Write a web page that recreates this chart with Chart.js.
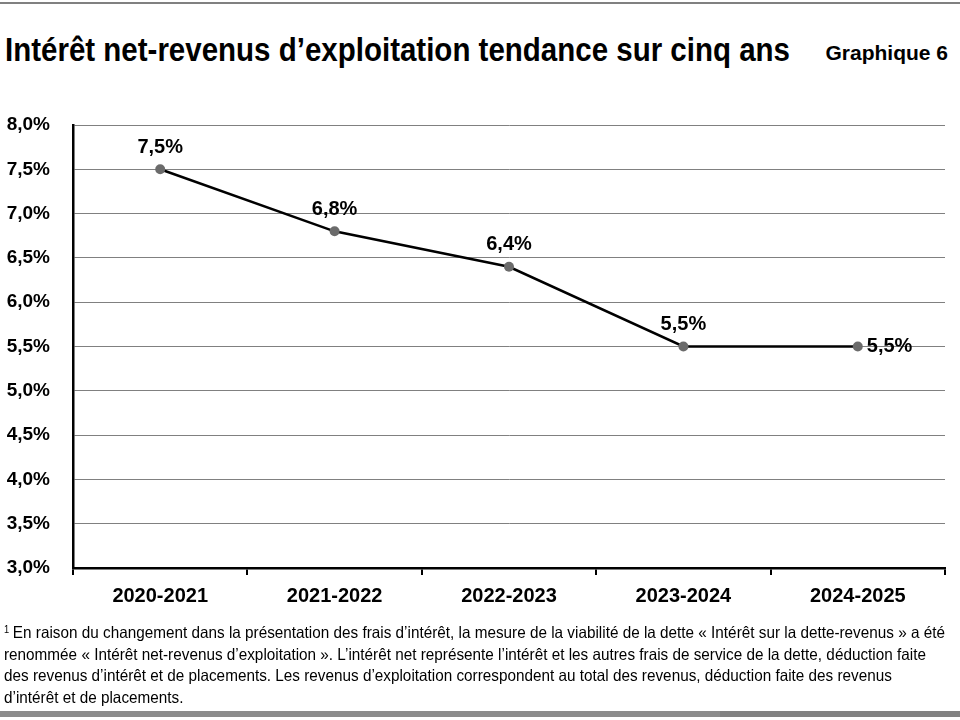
<!DOCTYPE html>
<html lang="fr">
<head>
<meta charset="utf-8">
<script src="https://cdn.jsdelivr.net/npm/chart.js@4.4.1/dist/chart.umd.min.js"></script>
<style>
  html, body { margin: 0; padding: 0; background: #fff; }
  body { width: 960px; height: 720px; position: relative; overflow: hidden;
         font-family: 'Liberation Sans', Arial, sans-serif; color: #000; }
  .topline { position: absolute; left: 0; top: 2px; width: 960px; height: 2px; background: #808080; }
  .bottombar { position: absolute; left: 0; top: 711px; width: 960px; height: 6px; background: #8c8c8c; }
  .bottombar span { position: absolute; left: 720px; top: 0; width: 240px; height: 6px; background: #828282; }
  h1 { position: absolute; left: 5px; top: 31px; margin: 0; font-size: 33px; font-weight: bold; white-space: nowrap;
       transform-origin: left top; }
  .num { position: absolute; right: 12px; top: 41px; font-size: 21px; font-weight: bold; white-space: nowrap; }
  #wrap { position: absolute; left: 0; top: 0; width: 960px; height: 720px; }
  .note { position: absolute; left: 4px; top: 622px; font-size: 16.5px; line-height: 21.5px; }
  .note div { white-space: nowrap; transform-origin: left top; }
  .note sup { font-size: 10px; vertical-align: top; position: relative; top: -3px; margin-right: 4px; }
</style>
</head>
<body>
<div class="topline"></div>
<h1 id="title">Intérêt net-revenus d’exploitation tendance sur cinq ans</h1>
<div class="num">Graphique 6</div>
<div id="wrap"><canvas id="c"></canvas></div>
<div class="note" id="note">
  <div><sup>1</sup>En raison du changement dans la présentation des frais d’intérêt, la mesure de la viabilité de la dette « Intérêt sur la dette-revenus » a été</div>
  <div>renommée « Intérêt net-revenus d’exploitation ». L’intérêt net représente l’intérêt et les autres frais de service de la dette, déduction faite</div>
  <div>des revenus d’intérêt et de placements. Les revenus d’exploitation correspondent au total des revenus, déduction faite des revenus</div>
  <div>d’intérêt et de placements.</div>
</div>
<div class="bottombar"><span></span></div>
<script>
const years = ['2020-2021', '2021-2022', '2022-2023', '2023-2024', '2024-2025'];
const ratio = [7.5, 6.8, 6.4, 5.5, 5.5];
const yMin = 3, yMax = 8, yStep = 0.5;

const FONT = "'Liberation Sans', Arial, sans-serif";
const pct = v => v.toFixed(1).replace('.', ',') + '%';

// squeeze the wide fallback font to the narrow widths of the original
function squeeze(el, target) {
  const w = el.getBoundingClientRect().width;
  el.style.transform = 'scaleX(' + (target / w) + ')';
}
squeeze(document.getElementById('title'), 785);
const noteLines = document.querySelectorAll('#note div');
const noteScale = 941 / noteLines[0].getBoundingClientRect().width;
noteLines.forEach(d => { d.style.transform = 'scaleX(' + noteScale + ')'; });

// labels above the points, the last one to the right
const valueLabels = {
  id: 'valueLabels',
  afterDatasetsDraw(chart) {
    const ctx = chart.ctx;
    const pts = chart.getDatasetMeta(0).data;
    ctx.save();
    ctx.font = 'bold 20px ' + FONT;
    ctx.fillStyle = '#000';
    ctx.textBaseline = 'middle';
    pts.forEach((p, i) => {
      if (i === pts.length - 1) {
        ctx.textAlign = 'left';
        ctx.fillText(pct(ratio[i]), p.x + 9, p.y);
      } else {
        ctx.textAlign = 'center';
        ctx.fillText(pct(ratio[i]), p.x, p.y - 22);
      }
    });
    ctx.restore();
  }
};

new Chart(document.getElementById('c'), {
  type: 'line',
  data: {
    labels: years,
    datasets: [{
      data: ratio,
      borderColor: '#000',
      borderWidth: 2.5,
      tension: 0,
      pointRadius: 5,
      pointHoverRadius: 5,
      pointBackgroundColor: '#6b6b6b',
      pointBorderColor: '#6b6b6b',
      pointBorderWidth: 0
    }]
  },
  options: {
    responsive: true,
    maintainAspectRatio: false,
    animation: false,
    layout: { padding: { top: 125, right: 15, bottom: 112, left: 0 } },
    plugins: { legend: { display: false }, tooltip: { enabled: false } },
    scales: {
      x: {
        offset: true,
        afterFit: s => { s.height = 40; },
        grid: { offset: true, drawOnChartArea: false, drawTicks: true, tickLength: 7, tickColor: '#000', lineWidth: 2 },
        border: { color: '#000', width: 2.5 },
        ticks: { color: '#000', font: { family: FONT, size: 20, weight: 'bold' }, padding: 9 }
      },
      y: {
        min: yMin,
        max: yMax,
        afterFit: s => { s.width = 73; },
        grid: { color: '#808080', lineWidth: 1, drawTicks: false },
        border: { color: '#000', width: 2.5 },
        ticks: { stepSize: yStep, color: '#000', padding: 23, font: { family: FONT, size: 19, weight: 'bold' },
                 callback: v => pct(v) }
      }
    }
  },
  plugins: [valueLabels]
});
</script>
</body>
</html>
